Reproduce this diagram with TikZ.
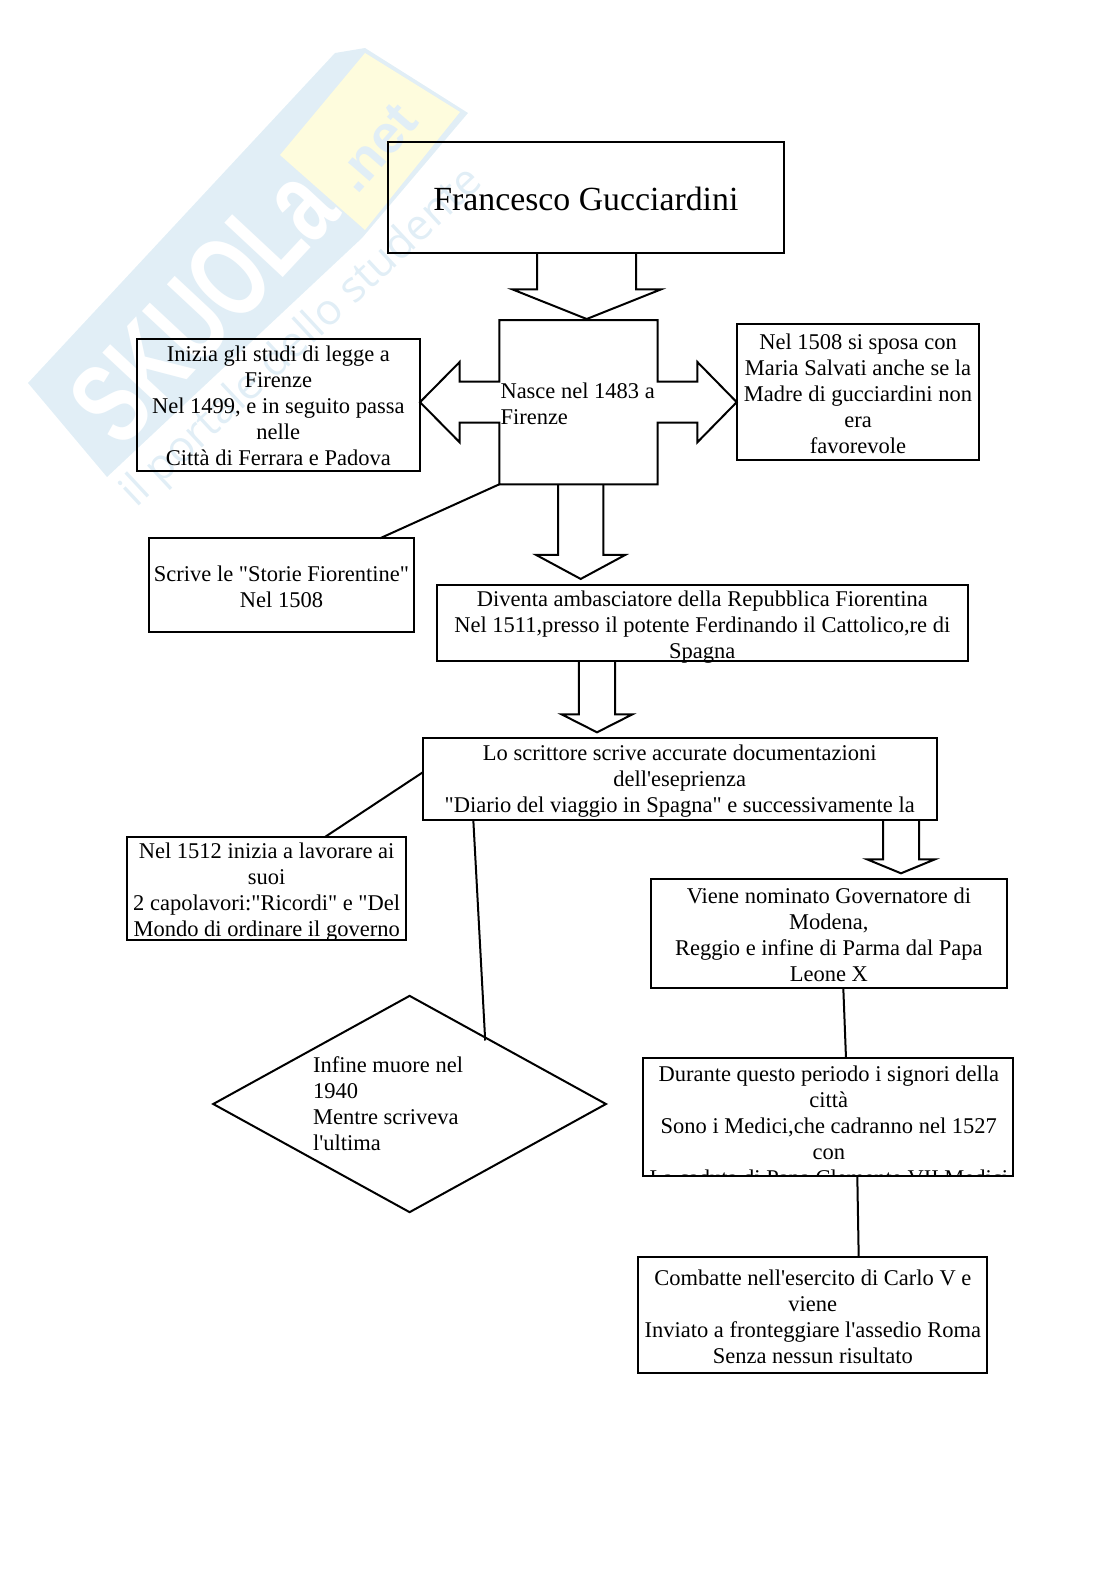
\documentclass[tikz,border=0pt]{standalone}
\usepackage{fontspec}
\setmainfont[Ligatures=TeXOff]{Liberation Serif}
\newfontfamily\marchio{Liberation Sans}
\newfontfamily\motto{Open Sans}
\usetikzlibrary{calc,shapes.geometric}
\definecolor{wmblue}{HTML}{E1EEF6}
\definecolor{wmyellow}{HTML}{FEFCDD}
\tikzset{
  testo/.style={font=\fontsize{11.25}{13}\selectfont},
  casella/.style={draw=black,line width=1pt,inner sep=0pt,outer sep=0pt,align=center,text depth=0pt,testo},
  contorno/.style={draw=black,line width=1pt,line join=miter},
  legame/.style={draw=black,line width=1pt}
}
\newcommand{\alza}[1]{\rule{0pt}{#1pt}}
\newcommand{\frecciagiu}[7]{%
  \coordinate (punta) at ($(#2.north)+(#3,-#4)$);
  \draw[contorno] ({$(punta)+(-#5,0)$} |- #1.south) -- ($(punta)+(-#5,-#7)$) -- ($(punta)+(-#6,-#7)$)
    -- (punta) -- ($(punta)+(#6,-#7)$) -- ($(punta)+(#5,-#7)$) -- ({$(punta)+(#5,0)$} |- #1.south);
}
\begin{document}
\begin{tikzpicture}[x=0.5pt,y=-0.5pt]
\useasboundingbox (0,0) rectangle (1116,1579);

\fill[wmblue] (28,383) -- (335,53) -- (365,48) -- (468,113) -- (362,238) -- (107,477) -- cycle;
\fill[wmyellow] (280,155) -- (365,53) -- (460,112) -- (365,230) -- cycle;
\node[rotate=47,yscale=1.45,transform shape,text=white,font=\marchio\bfseries\fontsize{40}{40}\selectfont,inner sep=0pt] (wmscuola) at (203,305) {SKUOLa};
\node[rotate=49,text=wmblue,font=\marchio\bfseries\fontsize{27}{27}\selectfont,inner sep=0pt] (wmnet) at (376,148) {.net};
\node[rotate=43,text=wmblue,font=\motto\fontsize{21.5}{21.5}\selectfont,inner sep=0pt] (wmmotto) at (303,338) {il portale dello studente};

\node[casella,minimum width=197.85pt,minimum height=55.75pt,font=\fontsize{16.9}{19}\selectfont] (titolo) at (585.85,197.5) {\alza{13}Francesco Gucciardini};
\node[inner sep=0pt,outer sep=0pt,minimum width=79.2pt,minimum height=82.15pt,text width=78pt,align=flush left,testo] (nasce) at (578.5,402.15) {\alza{9}Nasce nel 1483 a\\Firenze};
\node[casella,minimum width=141.65pt,minimum height=65.85pt] (inizia) at (278.35,404.85) {\alza{9}Inizia gli studi di legge a\\Firenze\\Nel 1499, e in seguito passa\\nelle\\Città di Ferrara e Padova};
\node[casella,minimum width=121.3pt,minimum height=68pt] (sposa) at (858,392) {\alza{9}Nel 1508 si sposa con\\Maria Salvati anche se la\\Madre di gucciardini non\\era\\favorevole};
\node[casella,minimum width=132.2pt,minimum height=46.7pt] (storie) at (281.5,585) {\alza{9}Scrive le "Storie Fiorentine"\\Nel 1508};
\node[casella,minimum width=265.7pt,minimum height=38.25pt] (diventa) at (702.3,623) {\alza{9.7}Diventa ambasciatore della Repubblica Fiorentina\\Nel 1511,presso il potente Ferdinando il Cattolico,re di\\Spagna};
\node[casella,minimum width=256.9pt,minimum height=40.7pt,text depth=0.4pt] (scrittore) at (679.7,779) {Lo scrittore scrive accurate documentazioni\\dell'eseprienza\\"Diario del viaggio in Spagna" e successivamente la};
\node[casella,minimum width=139.35pt,minimum height=51.65pt] (lavori) at (266.65,888.65) {\alza{9.2}Nel 1512 inizia a lavorare ai\\suoi\\2 capolavori:"Ricordi" e "Del\\Mondo di ordinare il governo};
\node[casella,minimum width=178.1pt,minimum height=54.35pt] (governatore) at (828.9,933.65) {\alza{9}Viene nominato Governatore di\\Modena,\\Reggio e infine di Parma dal Papa\\Leone X};
\node[casella,minimum width=185pt,minimum height=58.7pt] (periodo) at (828.3,1117) {};
\node[casella,minimum width=174.5pt,minimum height=57.7pt] (esercito) at (812.8,1315) {\alza{9}Combatte nell'esercito di Carlo V e\\viene\\Inviato a fronteggiare l'assedio Roma\\Senza nessun risultato};
\node[casella,diamond,aspect=1.815,minimum width=196.35pt,minimum height=108.15pt,text width=96.5pt,text depth=,align=flush left] (muore) at (409.6,1104) {Infine muore nel\\1940\\Mentre scriveva\\l'ultima};

\begin{scope}
\clip (periodo.north west) rectangle (periodo.south east);
\node[testo,align=center,anchor=north,inner sep=0pt] (periodotesto) at ($(periodo.north)+(0.5,7)$) {Durante questo periodo i signori della\\città\\Sono i Medici,che cadranno nel 1527\\con\\La caduta di Papa Clemente VII Medici};
\end{scope}

\draw[contorno] (nasce.north west) -- (nasce.north east) -- ($(nasce.east)+(0,-20.5)$) -- ++(39.6,0) -- ++(0,-19.7)
  -- (sposa.west |- nasce.east) -- ($(nasce.east)+(39.6,40.2)$) -- ++(0,-19.7) -- ($(nasce.east)+(0,20.5)$)
  -- (nasce.south east) -- (nasce.south west) -- ($(nasce.west)+(0,20.5)$) -- ++(-39.6,0) -- ++(0,19.7)
  -- (inizia.east |- nasce.west) -- ($(nasce.west)+(-39.6,-40.2)$) -- ++(0,19.7) -- ($(nasce.west)+(0,-20.5)$) -- cycle;

\frecciagiu{titolo}{nasce}{8.2}{1}{49.5}{74.5}{29.7}
\frecciagiu{nasce}{diventa}{-121.6}{5.8}{22.7}{44.5}{24}
\frecciagiu{diventa}{scrittore}{-82.7}{6}{18.15}{35.5}{18}
\frecciagiu{scrittore}{governatore}{72.1}{6}{18}{34}{14}

\draw[legame] (nasce.south west) -- ($(storie.north)+(98.5,0)$);
\draw[legame] ($(scrittore.west)+(0,-6.7)$) -- ($(lavori.north)+(58.3,0)$);
\draw[legame] ($(scrittore.south west)+(50.5,0)$) -- ($(muore.north)!0.385!(muore.east)+(0,3)$);
\draw[legame] ($(governatore.south)+(14.4,0)$) -- ($(periodo.north)+(17.7,0)$);
\draw[legame] ($(periodo.south)+(29,0)$) -- ($(esercito.north)+(45.9,0)$);
\end{tikzpicture}
\end{document}
